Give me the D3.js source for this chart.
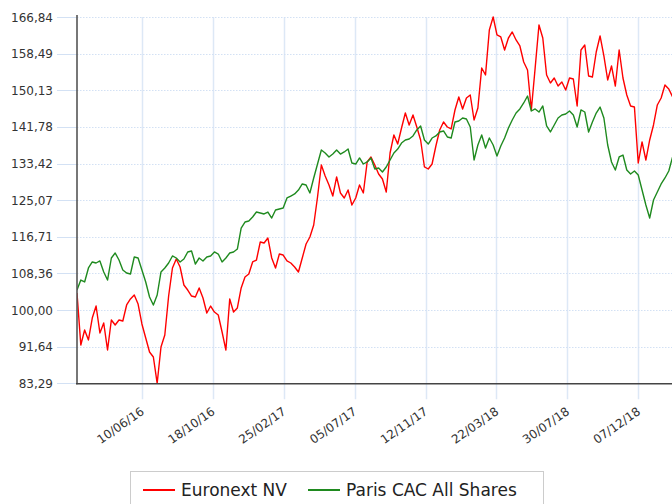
<!DOCTYPE html>
<html>
<head>
<meta charset="utf-8">
<script src="https://d3js.org/d3.v7.min.js"></script>
<style>
    body { margin: 0; background: #fff; }
    svg { display: block; font-family: "DejaVu Sans", Verdana, sans-serif; }
</style>
</head>
<body>
<div id="chart"></div>
<script>
// weekly closes, rebased
const dates = [
    "2016-02-12","2016-02-19","2016-02-26","2016-03-04","2016-03-11","2016-03-18","2016-03-25","2016-04-01","2016-04-08","2016-04-15",
    "2016-04-22","2016-04-29","2016-05-06","2016-05-13","2016-05-20","2016-05-27","2016-06-03","2016-06-10","2016-06-17","2016-06-24",
    "2016-07-01","2016-07-08","2016-07-15","2016-07-22","2016-07-29","2016-08-05","2016-08-12","2016-08-19","2016-08-26","2016-09-02",
    "2016-09-09","2016-09-16","2016-09-23","2016-09-30","2016-10-07","2016-10-14","2016-10-21","2016-10-28","2016-11-04","2016-11-11",
    "2016-11-18","2016-11-25","2016-12-02","2016-12-09","2016-12-16","2016-12-23","2016-12-30",
    "2017-01-06","2017-01-13","2017-01-20","2017-01-27","2017-02-03","2017-02-10","2017-02-17","2017-02-24","2017-03-03","2017-03-10",
    "2017-03-17","2017-03-24","2017-03-31","2017-04-07","2017-04-14","2017-04-21","2017-04-28","2017-05-05","2017-05-12","2017-05-19",
    "2017-05-26","2017-06-02","2017-06-09","2017-06-16","2017-06-23","2017-06-30","2017-07-07","2017-07-14","2017-07-21","2017-07-28",
    "2017-08-04","2017-08-11","2017-08-18","2017-08-25","2017-09-01","2017-09-08","2017-09-15","2017-09-22","2017-09-29","2017-10-06",
    "2017-10-13","2017-10-20","2017-10-27","2017-11-03","2017-11-10","2017-11-17","2017-11-24","2017-12-01","2017-12-08","2017-12-15",
    "2017-12-22","2017-12-29",
    "2018-01-05","2018-01-12","2018-01-19","2018-01-26","2018-02-02","2018-02-09","2018-02-16","2018-02-23","2018-03-02","2018-03-09",
    "2018-03-16","2018-03-23","2018-03-30","2018-04-06","2018-04-13","2018-04-20","2018-04-27","2018-05-04","2018-05-11","2018-05-18",
    "2018-05-25","2018-06-01","2018-06-08","2018-06-15","2018-06-22","2018-06-29","2018-07-06","2018-07-13","2018-07-20","2018-07-27",
    "2018-08-03","2018-08-10","2018-08-17","2018-08-24","2018-08-31","2018-09-07","2018-09-14","2018-09-21","2018-09-28","2018-10-05",
    "2018-10-12","2018-10-19","2018-10-26","2018-11-02","2018-11-09","2018-11-16","2018-11-23","2018-11-30","2018-12-07","2018-12-14",
    "2018-12-21","2018-12-28",
    "2019-01-04","2019-01-11","2019-01-18","2019-01-25","2019-02-01","2019-02-08"
];

const euronext = [
    103.89, 92.03, 95.45, 93.17, 98.18, 100.92, 94.76, 97.04, 90.88, 97.73,
    96.59, 97.73, 97.50, 101.15, 102.52, 103.43, 101.37, 96.82, 93.62, 90.43,
    89.29, 83.29, 91.57, 94.31, 103.20, 109.59, 111.64, 109.82, 105.71, 104.57,
    103.20, 102.97, 105.03, 102.75, 99.32, 100.92, 99.55, 98.87, 94.99, 90.88,
    102.52, 99.55, 100.47, 105.03, 107.54, 108.22, 110.96, 111.41, 115.52, 115.29,
    116.43, 111.87, 109.59, 112.78, 112.55, 111.19, 110.73, 109.82, 108.68, 111.87,
    115.06, 116.66, 119.40, 125.78, 133.08, 130.57, 128.52, 126.01, 130.35, 126.70,
    125.56, 127.38, 123.96, 125.56, 128.52, 126.70, 133.77, 134.91, 133.08, 131.03,
    129.89, 126.92, 135.82, 139.93, 137.87, 141.52, 144.94, 142.21, 144.49, 141.75,
    138.79, 132.63, 132.17, 133.31, 137.42, 141.07, 142.89, 141.75, 141.30, 145.63,
    148.59, 145.86, 148.37, 149.05, 143.35, 146.09, 155.21, 153.61, 163.88, 166.84,
    162.74, 162.28, 159.31, 162.05, 163.42, 161.60, 160.23, 156.58, 154.75, 145.63,
    155.21, 165.02, 162.05, 153.61, 151.79, 152.93, 151.10, 152.02, 150.19, 152.93,
    152.70, 146.54, 159.31, 160.46, 153.38, 153.16, 158.86, 162.51, 157.95, 152.47,
    155.67, 151.10, 159.31, 152.93, 149.05, 146.54, 146.31, 133.54, 138.33, 134.22,
    138.79, 142.21, 146.77, 148.37, 151.33, 150.42, 148.59
];

const cacAllShares = [
    104.57, 106.85, 106.40, 109.59, 110.96, 110.73, 111.19, 108.68, 106.85, 111.87,
    113.01, 111.41, 109.13, 108.45, 108.22, 112.10, 111.87, 109.13, 106.40, 102.97,
    101.15, 103.43, 108.68, 109.59, 110.73, 112.33, 111.87, 110.96, 111.64, 113.24,
    113.47, 110.50, 111.87, 111.19, 112.10, 112.33, 113.24, 112.78, 110.96, 111.87,
    113.01, 113.24, 113.92, 118.71, 120.08, 120.31, 121.22, 122.36, 122.13, 121.91,
    122.36, 120.99, 122.82, 123.05, 123.28, 125.56, 126.01, 126.47, 127.38, 128.75,
    128.52, 126.70, 130.12, 133.31, 136.50, 135.82, 134.91, 135.59, 136.50, 135.59,
    136.05, 136.73, 133.54, 133.31, 134.68, 133.31, 133.77, 134.68, 132.17, 132.40,
    131.49, 132.63, 134.22, 135.82, 136.73, 138.10, 138.79, 139.01, 139.70, 141.07,
    141.98, 138.79, 137.87, 139.24, 139.70, 140.61, 140.84, 139.47, 139.24, 142.89,
    143.12, 143.80, 143.58, 141.75, 134.22, 137.65, 139.93, 136.96, 139.24, 137.65,
    135.14, 137.42, 139.24, 141.52, 143.35, 144.94, 145.86, 147.23, 148.82, 145.40,
    145.86, 145.17, 146.54, 141.98, 140.61, 142.21, 143.80, 144.49, 144.72, 145.40,
    144.49, 141.75, 145.63, 145.17, 140.61, 142.89, 144.94, 146.31, 143.80, 137.65,
    133.77, 131.94, 134.91, 135.36, 131.94, 131.03, 131.71, 130.80, 127.38, 123.96,
    120.99, 125.10, 126.92, 128.75, 130.12, 131.71, 134.91
];

const seriesNames = ["Euronext NV", "Paris CAC All Shares"];
const seriesColors = ["#ff0000", "#1f8a1f"];

const yTicks = [166.84, 158.49, 150.13, 141.78, 133.42, 125.07, 116.71, 108.36, 100.00, 91.64, 83.29];
const xTicks = ["2016-06-10", "2016-10-18", "2017-02-25", "2017-07-05", "2017-11-12", "2018-03-22", "2018-07-30", "2018-12-07"];

const width = 672;
const height = 504;
const plotLeft = 77, plotTop = 17, plotBottom = 383.3, plotRight = 672.6;

const parse = d3.timeParse("%Y-%m-%d");
const fmtDate = d3.timeFormat("%d/%m/%y");
const fmtVal = d => d3.format(".2f")(d).replace(".", ",");

const x = d3.scaleTime()
    .domain([parse(dates[0]), parse(dates[dates.length - 1])])
    .range([plotLeft, plotRight]);

const y = d3.scaleLinear()
    .domain([yTicks[yTicks.length - 1], yTicks[0]])
    .range([plotBottom, plotTop]);

const svg = d3.select("#chart").append("svg")
    .attr("width", width)
    .attr("height", height);

// vertical grid + tick marks
svg.append("g").selectAll("line")
    .data(xTicks)
    .join("line")
    .attr("x1", d => Math.round(x(parse(d))) + 0.5)
    .attr("x2", d => Math.round(x(parse(d))) + 0.5)
    .attr("y1", plotTop)
    .attr("y2", plotBottom + 16)
    .attr("stroke", "#dde8f6")
    .attr("stroke-width", 1.5);

// horizontal grid (dotted) + solid ticks on the left
const hg = svg.append("g");
hg.selectAll("line.grid")
    .data(yTicks)
    .join("line")
    .attr("class", "grid")
    .attr("x1", plotLeft)
    .attr("x2", width)
    .attr("y1", d => Math.round(y(d)) + 0.5)
    .attr("y2", d => Math.round(y(d)) + 0.5)
    .attr("stroke", "#d3e1f4")
    .attr("stroke-dasharray", "1.5,1.5");
hg.selectAll("line.tick")
    .data(yTicks)
    .join("line")
    .attr("class", "tick")
    .attr("x1", plotLeft - 20)
    .attr("x2", plotLeft)
    .attr("y1", d => Math.round(y(d)) + 0.5)
    .attr("y2", d => Math.round(y(d)) + 0.5)
    .attr("stroke", "#d3e1f4");

// y labels
svg.append("g").selectAll("text")
    .data(yTicks)
    .join("text")
    .attr("x", plotLeft - 24)
    .attr("y", d => y(d) + 4.5)
    .attr("text-anchor", "end")
    .attr("font-size", 12)
    .attr("fill", "#333")
    .text(fmtVal);

// x labels
svg.append("g").selectAll("text")
    .data(xTicks)
    .join("text")
    .attr("text-anchor", "end")
    .attr("font-size", 12)
    .attr("fill", "#333")
    .attr("transform", d => `translate(${x(parse(d)) + 3},${plotBottom + 30}) rotate(-35)`)
    .text(d => fmtDate(parse(d)));

// series
svg.append("clipPath").attr("id", "plotclip")
    .append("rect")
    .attr("x", plotLeft).attr("y", plotTop - 2)
    .attr("width", width - plotLeft).attr("height", plotBottom - plotTop + 2);

const line = d3.line()
    .x(d => x(d.date))
    .y(d => y(d.value));

const series = [euronext, cacAllShares].map((vals, i) => ({
    name: seriesNames[i],
    color: seriesColors[i],
    points: vals.map((v, j) => ({ date: parse(dates[j]), value: v }))
}));

svg.append("g").attr("clip-path", "url(#plotclip)")
    .selectAll("path")
    .data(series)
    .join("path")
    .attr("fill", "none")
    .attr("stroke", d => d.color)
    .attr("stroke-width", 1.4)
    .attr("stroke-linejoin", "round")
    .attr("d", d => line(d.points));

// axis lines
svg.append("line")
    .attr("x1", plotLeft).attr("x2", plotLeft)
    .attr("y1", plotTop - 2).attr("y2", plotBottom + 1)
    .attr("stroke", "#555").attr("stroke-width", 1.6);
svg.append("line")
    .attr("x1", plotLeft - 1).attr("x2", width)
    .attr("y1", plotBottom + 0.5).attr("y2", plotBottom + 0.5)
    .attr("stroke", "#444").attr("stroke-width", 1.6);

// legend
const legend = svg.append("g");
legend.append("rect")
    .attr("x", 130.5).attr("y", 471.5)
    .attr("width", 413).attr("height", 40)
    .attr("fill", "#fff").attr("stroke", "#ccc");

const legendX = [143, 308];
series.forEach((s, i) => {
    legend.append("line")
        .attr("x1", legendX[i]).attr("x2", legendX[i] + 32)
        .attr("y1", 490).attr("y2", 490)
        .attr("stroke", s.color).attr("stroke-width", 2);
    legend.append("text")
        .attr("x", legendX[i] + 38)
        .attr("y", 496)
        .attr("font-size", 17)
        .attr("fill", "#222")
        .text(s.name);
});
</script>
</body>
</html>
